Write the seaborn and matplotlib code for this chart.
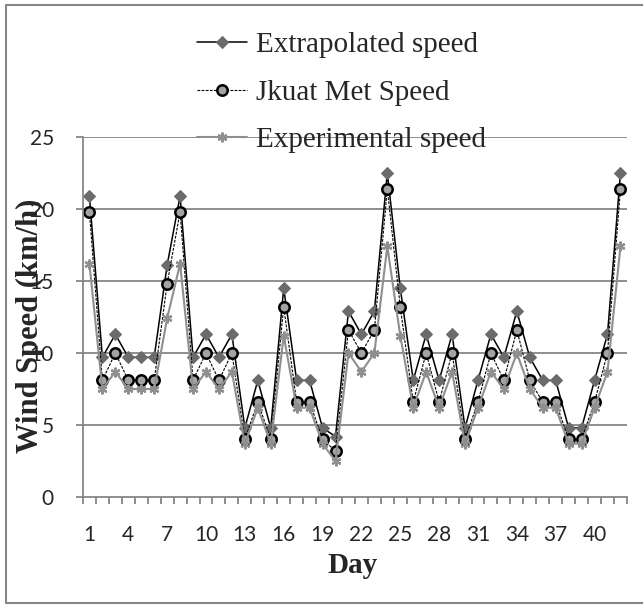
"""
Daily wind speed: extrapolated vs JKUAT met station vs experimental.
"""

import matplotlib
matplotlib.use("Agg")
import matplotlib.pyplot as plt
import seaborn as sns
from matplotlib.lines import Line2D

days = list(range(1, 43))

extrapolated = [20.9, 9.7, 11.3, 9.7, 9.7, 9.7, 16.1, 20.9, 9.7, 11.3,
                9.7, 11.3, 4.8, 8.1, 4.8, 14.5, 8.1, 8.1, 4.8, 4.2,
                12.9, 11.3, 12.9, 22.5, 14.5, 8.1, 11.3, 8.1, 11.3, 4.8,
                8.1, 11.3, 9.7, 12.9, 9.7, 8.1, 8.1, 4.8, 4.8, 8.1,
                11.3, 22.5]

jkuat_met = [19.8, 8.1, 10.0, 8.1, 8.1, 8.1, 14.8, 19.8, 8.1, 10.0,
             8.1, 10.0, 4.0, 6.6, 4.0, 13.2, 6.6, 6.6, 4.0, 3.2,
             11.6, 10.0, 11.6, 21.4, 13.2, 6.6, 10.0, 6.6, 10.0, 4.0,
             6.6, 10.0, 8.1, 11.6, 8.1, 6.6, 6.6, 4.0, 4.0, 6.6,
             10.0, 21.4]

experimental = [16.2, 7.5, 8.7, 7.5, 7.5, 7.5, 12.4, 16.2, 7.5, 8.7,
                7.5, 8.7, 3.7, 6.2, 3.7, 11.2, 6.2, 6.2, 3.7, 2.5,
                10.0, 8.7, 10.0, 17.4, 11.2, 6.2, 8.7, 6.2, 8.7, 3.7,
                6.2, 8.7, 7.5, 10.0, 7.5, 6.2, 6.2, 3.7, 3.7, 6.2,
                8.7, 17.4]

series_names = ["Extrapolated speed", "Jkuat Met Speed", "Experimental speed"]
x_labels = [str(d) for d in days[::3]]

sns.set_style("white")
plt.rcParams["font.family"] = ["Liberation Serif", "DejaVu Serif"]

GRID = "#868686"

fig = plt.figure(figsize=(6.43, 6.05), dpi=100)
ax = fig.add_axes([0.129, 0.1785, 0.846, 0.595])

# gridlines under the data
for yv in range(5, 26, 5):
    ax.axhline(yv, color=GRID, lw=1.3, zorder=0)

sns.lineplot(x=days, y=extrapolated, ax=ax, color="black", lw=1.1,
             marker="D", markersize=6, markerfacecolor="#6b6b6b",
             markeredgecolor="#6b6b6b", label=series_names[0])
sns.lineplot(x=days, y=jkuat_met, ax=ax, color="black", lw=0.8,
             linestyle="--", marker="o", markersize=7.5,
             markerfacecolor="#a3a3a3", markeredgecolor="black",
             markeredgewidth=1.8, label=series_names[1])
sns.lineplot(x=days, y=experimental, ax=ax, color="#8f8f8f", lw=1.5,
             marker=(6, 2, 0), markersize=7, markeredgecolor="#8f8f8f",
             markeredgewidth=1.6, label=series_names[2])
ax.lines[-2].set_dashes((2.5, 1.2))

ax.set_xlim(0.5, 42.5)
ax.set_ylim(0, 25)

for side in ["top", "right"]:
    ax.spines[side].set_visible(False)
for side in ["left", "bottom"]:
    ax.spines[side].set_color(GRID)
    ax.spines[side].set_linewidth(1.3)

ax.set_yticks(range(0, 26, 5))
ax.set_yticklabels([str(v) for v in range(0, 26, 5)])
ax.tick_params(axis="y", length=5, width=1.3, color=GRID, pad=16,
               labelsize=15, direction="out", left=True)
ax.set_xticks(days[::3])
ax.set_xticklabels(x_labels)
ax.set_xticks([d - 0.5 for d in days] + [42.5], minor=True)
ax.tick_params(axis="x", which="major", length=0, pad=20, labelsize=15)
ax.tick_params(axis="x", which="minor", length=5, width=1.3, color=GRID,
               direction="out", bottom=True)
for lbl in ax.get_xticklabels() + ax.get_yticklabels():
    lbl.set_fontfamily(["Lato", "DejaVu Sans"])

ax.set_xlabel("Day", fontsize=21, fontweight="bold")
ax.xaxis.set_label_coords(0.496, -0.153)
ax.set_ylabel("Wind Speed (km/h)", fontsize=22, fontweight="bold")
ax.yaxis.set_label_coords(-0.07, 0.475)

handles, labels = ax.get_legend_handles_labels()
ax.get_legend().remove()
fig.legend(handles, labels, loc="upper left", bbox_to_anchor=(0.307, 0.947),
           frameon=False, fontsize=21, handlelength=1.7, handletextpad=0.3,
           labelspacing=0.72, borderpad=0, borderaxespad=0)

# outer chart border (right edge falls outside the picture)
bx0, bx1, by0, by1 = 0.009, 1.0, 0.004, 0.992
for xs, ys in [((bx0, bx0), (by0, by1)), ((bx0, bx1), (by1, by1)),
               ((bx0, bx1), (by0, by0))]:
    fig.add_artist(Line2D(xs, ys, transform=fig.transFigure,
                          color=GRID, lw=1.5))

fig.savefig("out.png", dpi=100)
